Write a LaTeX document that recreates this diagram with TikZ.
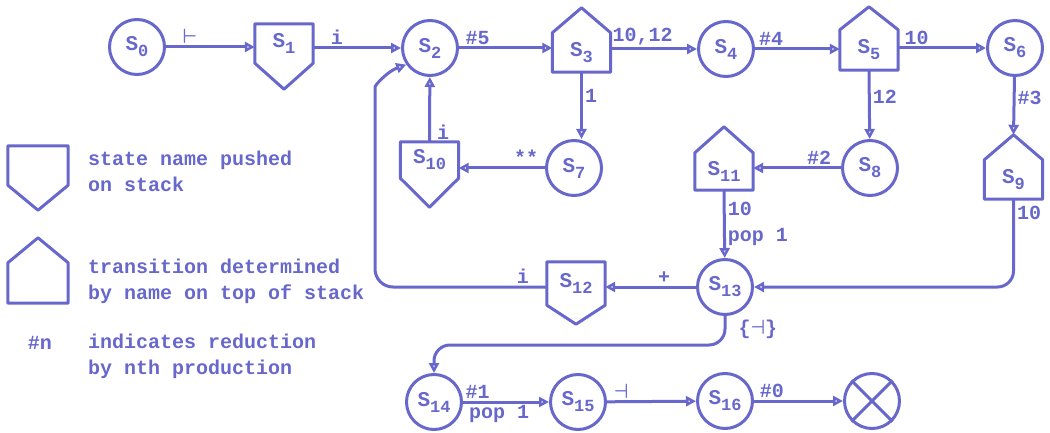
\documentclass[tikz,border=0pt]{standalone}
\usepackage{fontspec}
\usepackage{amsmath}
\usepackage{amssymb}
\setmainfont{Liberation Mono}
\usetikzlibrary{arrows.meta,calc,positioning}
\definecolor{Ink}{RGB}{104,104,204}
\tikzset{
  state/.style={circle,draw=Ink,line width=3pt,minimum size=55pt,inner sep=0pt,
                text=Ink,font=\bfseries\fontsize{21}{25}\selectfont},
  stk/.style={rectangle,draw=none,minimum width=58pt,inner sep=0pt,
              text=Ink,font=\bfseries\fontsize{21}{25}\selectfont},
  outline/.style={draw=Ink,line width=3pt,line join=round},
  arr/.style={-{Triangle[open,length=10pt,width=10pt]},draw=Ink,line width=3pt},
  lab/.style={text=Ink,font=\bfseries\fontsize{20}{26}\selectfont,inner sep=2pt},
}
\newcommand{\sname}[1]{S\raisebox{-6pt}{\fontsize{17}{17}\selectfont#1}}
% pentagon pointing down: state name pushed on stack
\newcommand{\pushshape}[2]{\draw[outline] (#1.south west) -- (#1.north west) -- (#1.north east)
  -- (#1.south east) -- ($(#1.south)+(0,#2)$) coordinate (#1-tip) -- cycle;}
% pentagon pointing up: transition by top of stack
\newcommand{\houseshape}[2]{\draw[outline] (#1.north west) -- (#1.south west) -- (#1.south east)
  -- (#1.north east) -- ($(#1.north)+(0,-#2)$) coordinate (#1-tip) -- cycle;}

\begin{document}
\begin{tikzpicture}[x=1pt,y=-1pt]
  \useasboundingbox (0,0) rectangle (1050,433);
  % Top row
  \node[state] (s0) at (137,47) {\sname{0}};
  \node[stk,minimum height=39pt] (s1) at (284,43.5) {\sname{1}};
  \node[state] (s2) at (430,48) {\sname{2}};
  \node[stk,minimum height=39pt] (s3) at (581.5,52.5) {\sname{3}};
  \node[state] (s4) at (726,49) {\sname{4}};
  \node[stk,minimum height=40pt] (s5) at (869,50) {\sname{5}};
  \node[state] (s6) at (1015,48) {\sname{6}};
  % Middle rows
  \node[state] (s7) at (574,168) {\sname{7}};
  \node[state] (s8) at (870,168) {\sname{8}};
  \node[stk,minimum height=39pt] (s9) at (1013.5,179.5) {\sname{9}};
  \node[stk,minimum height=36pt] (s10) at (429.5,160) {\sname{10}};
  \node[stk,minimum height=37pt] (s11) at (724,171.5) {\sname{11}};
  \node[stk,minimum height=43pt] (s12) at (576,283.5) {\sname{12}};
  \node[state] (s13) at (725,287) {\sname{13}};
  % Bottom row
  \node[state] (s14) at (434,402) {\sname{14}};
  \node[state] (s15) at (578,402) {\sname{15}};
  \node[state] (s16) at (725,401) {\sname{16}};
  \node[state] (fin) at (872,401) {};
  \draw[outline] (fin.45) -- (fin.225) (fin.135) -- (fin.315);
  \coordinate (turn) at (725,345);

  \pushshape{s1}{26}
  \pushshape{s10}{29}
  \pushshape{s12}{19}
  \houseshape{s3}{25}
  \houseshape{s5}{23}
  \houseshape{s9}{25}
  \houseshape{s11}{26}

  % Transitions
  \draw[arr] (s0) -- node[lab,pos=0.27,above]{$\boldsymbol{\vdash}$} (s1.west |- s0);
  \draw[arr] (s1.east |- s2) -- node[lab,pos=0.27,above]{i} (s2);
  \draw[arr] (s2) -- node[lab,pos=0.2,above]{\#5} (s3.west |- s2);
  \draw[arr] (s3.east |- s4) -- node[lab,pos=0.37,above]{10,12} (s4);
  \draw[arr] (s4) -- node[lab,pos=0.19,above]{\#4} (s5.west |- s4);
  \draw[arr] (s5.east |- s6) -- node[lab,pos=0.21,above]{10} (s6);
  \draw[arr] (s3.south) -- node[lab,pos=0.35,right]{1} (s3.south |- s7.north);
  \draw[arr] (s5.south) -- node[lab,pos=0.38,right]{12} (s8);
  \draw[arr] (s6) -- node[lab,pos=0.36,right]{\#3} (s9-tip);
  \draw[arr] (s7) -- node[lab,pos=0.22,above]{**} (s10.east |- s7);
  \draw[arr] (s10.north) -- node[lab,pos=0.14,right=4pt]{i} (s2);
  \draw[arr] (s8) -- node[lab,pos=0.25,above]{\#2} (s11.east |- s8);
  \draw[arr] (s11.south) -- node[lab,pos=0.5,right,align=left]{10\\pop 1} (s13);
  \draw[arr,rounded corners=16pt] (s9.south) |- node[lab,pos=0.08,right]{10} (s13);
  \draw[arr] (s13) -- node[lab,pos=0.35,above]{+} (s12.east |- s13);
  \draw[arr,rounded corners=18pt] (s12.west |- s13) -- node[lab,pos=0.14,above]{i} (375,287)
    -- (375,105) to[out=90,in=200] (s2.215);
  \draw[arr,rounded corners=16pt] (s13) -- node[lab,pos=0.45,right=10pt]{\{$\boldsymbol{\dashv}$\}} (turn) -| (s14);
  \draw[arr] (s14) -- node[lab,pos=0.17,above]{\#1} node[lab,pos=0.03,below right]{pop 1} (s15);
  \draw[arr] (s15) -- node[lab,pos=0.16,above]{$\boldsymbol{\dashv}$} (s16);
  \draw[arr] (s16) -- node[lab,pos=0.2,above]{\#0} (fin);

  % Legend
  \node[stk,minimum width=60pt,minimum height=39pt] (lpush) at (38,165.5) {};
  \pushshape{lpush}{25}
  \node[lab,anchor=west,align=left] (lpushtxt) at (86,171) {state name pushed\\on stack};
  \node[stk,minimum width=60pt,minimum height=40pt] (lhouse) at (38,283) {};
  \houseshape{lhouse}{25}
  \node[lab,anchor=west,align=left] (lhousetxt) at (86,281) {transition determined\\by name on top of stack};
  \node[lab] (lred) at (40,343) {\#n};
  \node[lab,anchor=west,align=left] (lredtxt) at (86,356) {indicates reduction\\by nth production};
\end{tikzpicture}
\end{document}
